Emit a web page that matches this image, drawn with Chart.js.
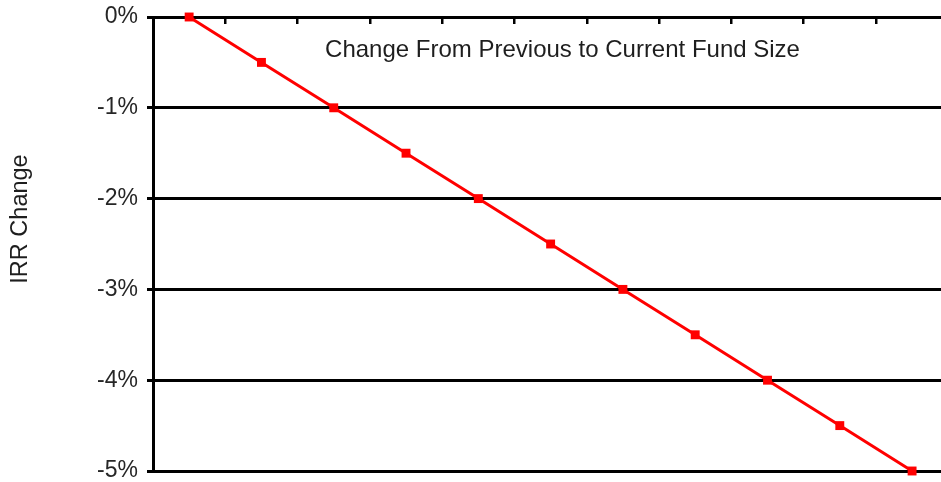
<!DOCTYPE html>
<html>
<head>
<meta charset="utf-8">
<script src="https://cdn.jsdelivr.net/npm/chart.js@4/dist/chart.umd.min.js"></script>
<style>
  html, body { margin: 0; padding: 0; background: #fff; }
  #wrap { width: 941px; height: 482px; }
</style>
</head>
<body>
<div id="wrap"><canvas id="c" width="941" height="482"></canvas></div>
<script>
// Fund-size steps and the resulting IRR change (in percent)
const steps = [0, 1, 2, 3, 4, 5, 6, 7, 8, 9, 10];
const irrChange = [0, -0.5, -1, -1.5, -2, -2.5, -3, -3.5, -4, -4.5, -5];
const yTicks = [0, -1, -2, -3, -4, -5];
// tick marks on the top axis fall between consecutive steps
const stepBoundaries = steps.slice(1).map(s => s - 0.5);
const chartTitle = 'Change From Previous to Current Fund Size';
const yAxisTitle = 'IRR Change';

const FONT = '"Liberation Sans", Arial, sans-serif';

// Title inside the plot and the rotated y-axis title
const labelsPlugin = {
  id: 'labelsPlugin',
  afterDraw(chart) {
    const { ctx, chartArea: a } = chart;
    ctx.save();
    ctx.fillStyle = '#1e1e1e';
    ctx.textAlign = 'center';
    ctx.textBaseline = 'middle';
    ctx.font = '24px ' + FONT;
    ctx.fillText(chartTitle, a.left + a.width * 0.5197, a.top + 33);
    ctx.font = '23.5px ' + FONT;
    ctx.translate(21, (a.top + a.bottom) / 2 - 25);
    ctx.rotate(-Math.PI / 2);
    ctx.fillText(yAxisTitle, 0, 0);
    ctx.restore();
  }
};

function noPadding(scale) {
  scale.paddingTop = 0;
  scale.paddingBottom = 0;
  scale.paddingLeft = 0;
  scale.paddingRight = 0;
}

new Chart(document.getElementById('c'), {
  type: 'line',
  data: {
    datasets: [{
      data: steps.map((s, i) => ({ x: s, y: irrChange[i] })),
      borderColor: '#ff0000',
      backgroundColor: '#ff0000',
      borderWidth: 3,
      tension: 0,
      pointStyle: 'rect',
      pointRadius: 6.3,
      pointHoverRadius: 6.3,
      pointBorderWidth: 0,
      clip: false
    }]
  },
  options: {
    responsive: false,
    devicePixelRatio: 1,
    animation: false,
    layout: { autoPadding: false, padding: { left: 0, right: 0, top: 0, bottom: 11 } },
    plugins: {
      legend: { display: false },
      title: { display: false },
      tooltip: { enabled: false }
    },
    scales: {
      x: {
        type: 'linear',
        position: 'top',
        min: -0.5,
        max: 10.4,
        afterBuildTicks(scale) {
          scale.ticks = stepBoundaries.map(v => ({ value: v }));
        },
        afterFit(scale) { scale.height = 17; noPadding(scale); },
        ticks: { display: false },
        grid: {
          drawOnChartArea: false,
          drawTicks: true,
          tickLength: -7,
          color: '#000',
          lineWidth: 2.5
        },
        border: { display: true, color: '#000', width: 3 }
      },
      y: {
        min: -5,
        max: 0,
        afterBuildTicks(scale) {
          scale.ticks = yTicks.map(v => ({ value: v }));
        },
        afterFit(scale) { scale.width = 153; noPadding(scale); },
        ticks: {
          callback: v => v + '%',
          color: '#262626',
          font: { family: FONT, size: 23 },
          padding: 9
        },
        grid: {
          color: '#000',
          lineWidth: 3,
          drawTicks: true,
          tickLength: 6
        },
        border: { display: true, color: '#000', width: 3 }
      }
    }
  },
  plugins: [labelsPlugin]
});
</script>
</body>
</html>
